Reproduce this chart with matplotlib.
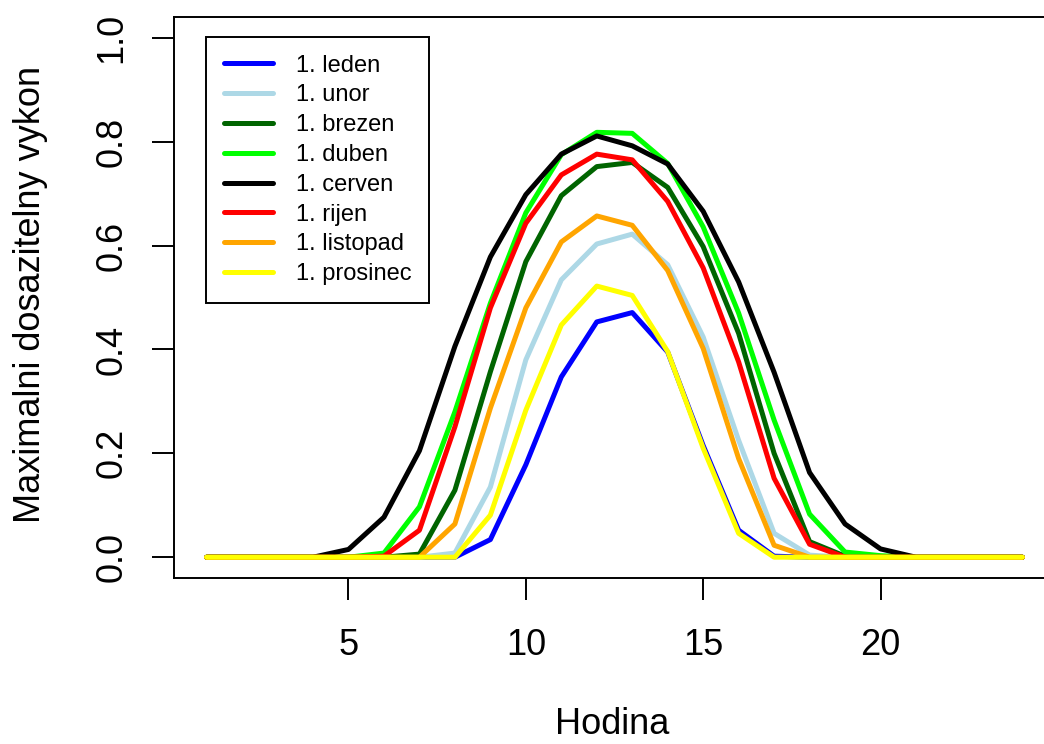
import matplotlib
matplotlib.use("Agg")
import matplotlib.pyplot as plt

hours = list(range(1, 25))

leden    = [0, 0, 0, 0, 0, 0, 0, 0, 0.034, 0.178, 0.347, 0.453, 0.471, 0.395, 0.215, 0.052, 0.002, 0, 0, 0, 0, 0, 0, 0]
unor     = [0, 0, 0, 0, 0, 0, 0, 0.008, 0.135, 0.380, 0.534, 0.603, 0.622, 0.563, 0.424, 0.225, 0.046, 0.004, 0, 0, 0, 0, 0, 0]
brezen   = [0, 0, 0, 0, 0, 0, 0.006, 0.129, 0.357, 0.569, 0.696, 0.752, 0.760, 0.712, 0.598, 0.431, 0.200, 0.030, 0.002, 0, 0, 0, 0, 0]
duben    = [0, 0, 0, 0, 0, 0.008, 0.097, 0.280, 0.489, 0.663, 0.775, 0.818, 0.816, 0.758, 0.636, 0.470, 0.264, 0.083, 0.010, 0.003, 0, 0, 0, 0]
cerven   = [0, 0, 0, 0, 0.015, 0.077, 0.205, 0.406, 0.578, 0.698, 0.776, 0.811, 0.792, 0.757, 0.666, 0.530, 0.356, 0.163, 0.064, 0.016, 0, 0, 0, 0]
rijen    = [0, 0, 0, 0, 0, 0.002, 0.052, 0.251, 0.480, 0.643, 0.736, 0.776, 0.765, 0.685, 0.557, 0.376, 0.152, 0.025, 0, 0, 0, 0, 0, 0]
listopad = [0, 0, 0, 0, 0, 0, 0, 0.064, 0.287, 0.480, 0.607, 0.657, 0.639, 0.552, 0.402, 0.190, 0.023, 0, 0, 0, 0, 0, 0, 0]
prosinec = [0, 0, 0, 0, 0, 0, 0, 0, 0.081, 0.283, 0.447, 0.522, 0.504, 0.396, 0.210, 0.046, 0, 0, 0, 0, 0, 0, 0, 0]

labels = ["1. leden", "1. unor", "1. brezen", "1. duben", "1. cerven", "1. rijen", "1. listopad", "1. prosinec"]
series = [leden, unor, brezen, duben, cerven, rijen, listopad, prosinec]
colors = ["#0000FF", "#ADD8E6", "#006400", "#00FF00", "#000000", "#FF0000", "#FFA500", "#FFFF00"]

xticks = [5, 10, 15, 20]
yticks = [0.0, 0.2, 0.4, 0.6, 0.8, 1.0]

plt.rcParams['font.family'] = ['Liberation Sans', 'DejaVu Sans']

W, H = 1044, 744
L, R, T, B = 174, 1055, 17, 578
fig = plt.figure(figsize=(W/100, H/100), dpi=100)
ax = fig.add_axes([L/W, 1-B/H, (R-L)/W, (B-T)/H])

for lab, vals, col in zip(labels, series, colors):
    ax.plot(hours, vals, color=col, lw=3.6, label=lab,
            solid_capstyle='round', solid_joinstyle='round')

ax.set_xlim(1 - 0.04*23, 24 + 0.04*23)
ax.set_ylim(-0.04, 1.04)
ax.set_xticks(xticks)
ax.set_xticklabels([str(t) for t in xticks])
ax.set_yticks(yticks)
ax.set_yticklabels([f"{t:.1f}" for t in yticks])

for s in ax.spines.values():
    s.set_linewidth(1.4)
    s.set_color('black')

ax.tick_params(axis='both', direction='out', length=16, width=1.4, labelsize=26)
ax.tick_params(axis='x', pad=20)
ax.tick_params(axis='y', labelrotation=90, pad=16)
for t in ax.get_yticklabels():
    t.set_va('center')

aw, ah = R - L, B - T
ax.set_xlabel("Hodina", fontsize=26)
ax.set_ylabel("Maximalni dosazitelny vykon", fontsize=26)
ax.xaxis.set_label_coords((612-L)/aw, (B-725)/ah)
ax.xaxis.label.set_va('center')
ax.yaxis.set_label_coords((31-L)/aw, (B-294)/ah)
ax.yaxis.label.set_va('center')

leg = ax.legend(loc='upper left', bbox_to_anchor=((206-L)/aw, (B-37)/ah),
                borderaxespad=0, fontsize=17, frameon=True, fancybox=False,
                edgecolor='black', framealpha=1, handlelength=2.1,
                handletextpad=0.95, labelspacing=0.33, borderpad=0.75)
leg.get_frame().set_linewidth(1.4)

fig.savefig("out.png", dpi=100)
